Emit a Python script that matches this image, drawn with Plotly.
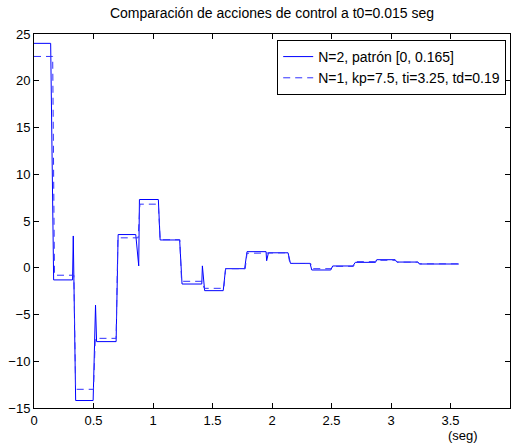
import plotly.graph_objects as go

# Series 1: N=2, patrón [0, 0.165] (solid)
t_n2 = [0, 0.14, 0.165, 0.324, 0.33, 0.35, 0.497, 0.517, 0.526, 0.69, 0.707, 0.855, 0.88, 0.886,
        1.045, 1.06, 1.224, 1.244, 1.41, 1.415, 1.434, 1.59, 1.61, 1.77, 1.79, 1.95, 1.955, 1.97,
        2.135, 2.155, 2.32, 2.334, 2.494, 2.51, 2.68, 2.70, 2.87, 2.88, 3.035, 3.05, 3.226, 3.24, 3.57]
u_n2 = [24, 24, -1.3, -1.3, 3.4, -14.2, -14.2, -4.0, -7.9, -7.9, 3.55, 3.55, 0.2, 7.3,
        7.3, 2.97, 2.97, -1.74, -1.74, 0.2, -2.45, -2.45, -0.1, -0.1, 1.72, 1.72, 0.75, 1.6,
        1.6, 0.47, 0.47, -0.24, -0.24, 0.19, 0.19, 0.58, 0.58, 0.86, 0.86, 0.61, 0.61, 0.4, 0.4]

# Series 2: N=1, kp=7.5, ti=3.25, td=0.19 (dashed)
t_n1 = [0, 0.157, 0.172, 0.335, 0.35, 0.50, 0.515, 0.69, 0.705, 0.875, 0.89, 1.045, 1.06, 1.225,
        1.24, 1.415, 1.43, 1.595, 1.61, 1.775, 1.79, 1.955, 1.97, 2.135, 2.15, 2.325, 2.34, 2.495,
        2.51, 2.685, 2.70, 2.865, 2.88, 3.035, 3.05, 3.225, 3.24, 3.57]
u_n1 = [22.6, 22.6, -0.8, -0.8, -13.0, -13.0, -7.55, -7.55, 3.2, 3.2, 6.8, 6.8, 3.0, 3.0,
        -1.45, -1.45, -2.2, -2.2, -0.1, -0.1, 1.55, 1.55, 1.6, 1.6, 0.45, 0.45, -0.1, -0.1,
        0.15, 0.15, 0.65, 0.65, 0.8, 0.8, 0.6, 0.6, 0.42, 0.42]

x_ticks = [0, 0.5, 1, 1.5, 2, 2.5, 3, 3.5, 4]
x_ticklabels = ["0", "0.5", "1", "1.5", "2", "2.5", "3", "3.5", "4"]
y_ticks = [-15, -10, -5, 0, 5, 10, 15, 20, 25]

FONT = "Arial, Liberation Sans, sans-serif"

fig = go.Figure()
fig.add_trace(go.Scatter(x=t_n2, y=u_n2, mode="lines", name="N=2, patrón [0, 0.165]",
                         line=dict(color="#0000ff", width=1)))
fig.add_trace(go.Scatter(x=t_n1, y=u_n1, mode="lines", name="N=1, kp=7.5, ti=3.25, td=0.19",
                         line=dict(color="#3030ff", width=1, dash="7px,5px")))

axis_common = dict(showline=True, linecolor="black", linewidth=1, mirror="ticks",
                   ticks="inside", ticklen=5, tickcolor="black", showgrid=False,
                   zeroline=False, tickfont=dict(family=FONT, size=13, color="black"))

fig.update_layout(
    width=513, height=447,
    margin=dict(l=34, r=3, t=34, b=39),
    paper_bgcolor="white", plot_bgcolor="white",
    title=dict(text="Comparación de acciones de control a t0=0.015 seg",
               font=dict(family=FONT, size=14, color="black"),
               x=(34 + 510) / 2 / 513, xanchor="center", y=1 - 13 / 447, yanchor="middle"),
    xaxis=dict(range=[0, 4], tickvals=x_ticks, ticktext=x_ticklabels, **axis_common),
    yaxis=dict(range=[-15, 25], tickvals=y_ticks, **axis_common),
    legend=dict(x=0.992, xanchor="right", y=0.984, yanchor="top",
                bordercolor="black", borderwidth=1, bgcolor="white",
                font=dict(family=FONT, size=14, color="black"),
                itemwidth=30, tracegroupgap=0),
    showlegend=True,
    annotations=[dict(text="(seg)", x=(463 - 34) / 476, xref="paper", y=-27 / 374, yref="paper",
                      showarrow=False, xanchor="center", yanchor="middle",
                      font=dict(family=FONT, size=13, color="black"))],
)

fig.write_html("out.html")
